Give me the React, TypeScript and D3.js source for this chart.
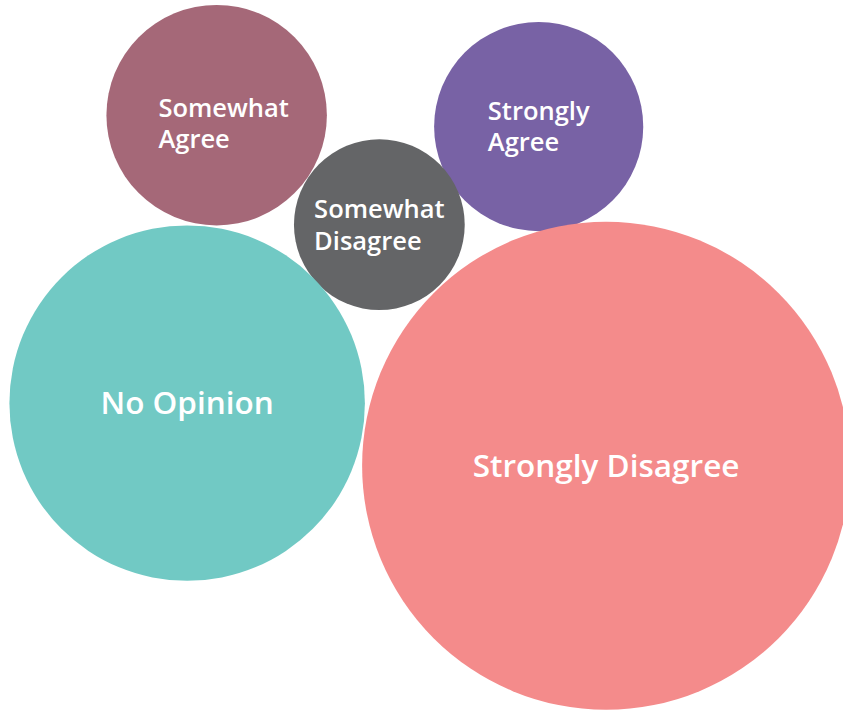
import React from 'react';
import * as d3 from 'd3';

// survey responses, share of respondents (%)
const categories = ['Somewhat Agree', 'Strongly Agree', 'Somewhat Disagree', 'No Opinion', 'Strongly Disagree'];
const shares = [10, 9, 6, 26, 49];
// bubble placement on a hidden 0-100 grid
const xPos = [25.7, 63.9, 45.0, 22.2, 71.9];
const yPos = [16.2, 17.8, 31.6, 56.7, 65.5];
const colors = ['#a56878', '#7862a5', '#646567', '#71c9c4', '#f48b8b'];
// labels that wrap onto two lines
const labelLines = [['Somewhat', 'Agree'], ['Strongly', 'Agree'], ['Somewhat', 'Disagree'], ['No Opinion'], ['Strongly Disagree']];

const width = 843;
const height = 711;
const fontFamily = "'Open Sans', Lato, sans-serif";
// the Somewhat Agree label sits a bit low/right of its bubble centre
const labelNudge: Record<string, [number, number]> = { 'Somewhat Agree': [7, 8] };

// canvas measurement so the widest line can be centred in its bubble
const ctx = document.createElement('canvas').getContext('2d');
const measure = (s: string, size: number) => {
  if (!ctx) return s.length * size * 0.55;
  ctx.font = `600 ${size}px ${fontFamily}`;
  return ctx.measureText(s).width;
};

const App = () => {
  const x = d3.scaleLinear().domain([0, 100]).range([0, width]);
  const y = d3.scaleLinear().domain([0, 100]).range([0, height]);
  const r = d3.scaleSqrt().domain([0, d3.max(shares) as number]).range([0, 244]);

  const data = categories.map((name, i) => ({
    name,
    value: shares[i],
    cx: x(xPos[i]),
    cy: y(yPos[i]),
    r: r(shares[i]),
    color: colors[i],
    lines: labelLines[i],
  }));

  return (
    <svg
      width={width}
      height={height}
      style={{ position: 'absolute', left: 0, top: 0, display: 'block', background: '#fff' }}
      fontFamily={fontFamily}
    >
      {data.map(d => {
        const single = d.lines.length === 1;
        const fs = single ? 31.5 : 25.5;
        const lh = 31.5;
        const [dx, dy] = labelNudge[d.name] || [0, 0];
        const blockW = d3.max(d.lines, l => measure(l, fs)) as number;
        const capH = fs * 0.72;
        const firstBase = d.cy + dy - ((d.lines.length - 1) * lh + capH) / 2 + capH;
        return (
          <g key={d.name}>
            <circle cx={d.cx} cy={d.cy} r={d.r} fill={d.color} />
            {single ? (
              <text x={d.cx + dx} y={firstBase} fill="#fff" fontSize={fs} fontWeight={600} textAnchor="middle">
                {d.lines[0]}
              </text>
            ) : (
              <text fill="#fff" fontSize={fs} fontWeight={600}>
                {d.lines.map((l, j) => (
                  <tspan key={l} x={d.cx + dx - blockW / 2} y={firstBase + j * lh}>{l}</tspan>
                ))}
              </text>
            )}
          </g>
        );
      })}
    </svg>
  );
};

export default App;
